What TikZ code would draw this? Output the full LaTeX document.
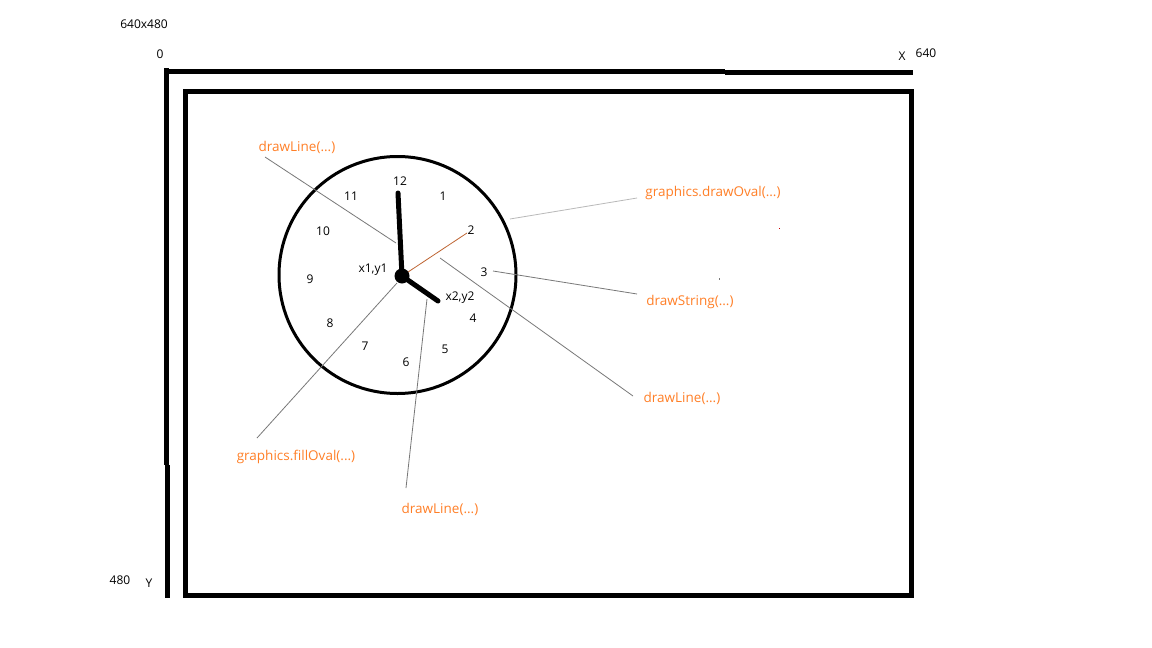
\documentclass[tikz,border=0pt]{standalone}
\usepackage{fontspec}
\setmainfont{Open Sans}
\definecolor{lbl}{RGB}{255,127,39}
\definecolor{ln}{RGB}{120,120,120}
\definecolor{lnlight}{RGB}{185,185,185}
\definecolor{brownln}{RGB}{190,100,50}
\begin{document}
\begin{tikzpicture}[x=1pt,y=-1pt,
  txt/.style={font=\fontsize{12}{14}\selectfont,inner sep=0pt},
  num/.style={txt},
  lab/.style={font=\fontsize{13.5}{16}\selectfont,inner sep=0pt,text=lbl},
  frame/.style={line width=5pt},
  conn/.style={ln,line width=0.8pt},
  hand/.style={line width=5pt,line cap=round}]
\useasboundingbox (0,0) rectangle (1152,648);
\fill[white] (0,0) rectangle (1152,648);
% axes
\draw[frame] (166,68) -- (166,465);
\draw[frame] (167,465) -- (167,598);
\draw[frame] (164,71) -- (725,71);
\draw[frame] (725,72.5) -- (913,72.5);
% inner rectangle
\draw[frame] (185,91) rectangle (911,595);
% corner texts
\node[txt] (res) at (144,24) {640x480};
\node[txt] (zero) at (160,54) {0};
\node[txt] (xl) at (902,56) {X};
\node[txt] (xv) at (926,53) {640};
\node[txt] (yv) at (120,580) {480};
\node[txt] (yl) at (149,583) {Y};
% clock
\node[draw,circle,line width=3pt,minimum size=237pt,inner sep=0pt] (clock) at (397.5,275) {};
\coordinate (hub) at (402,276);
\coordinate (mintip) at (398,193);
\coordinate (hrtip) at (438,301);
\coordinate (two) at (467,233);
\draw[brownln,line width=0.8pt] (hub) -- (two);
\draw[hand] (hub) -- (mintip);
\draw[hand] (hub) -- (hrtip);
\fill (hub) circle (7.5pt);
% numbers
\node[num] (n12) at (400,181) {12};
\node[num] (n1) at (443,196) {1};
\node[num] (n2) at (471,230) {2};
\node[num] (n3) at (484,272) {3};
\node[num] (n4) at (473,318) {4};
\node[num] (n5) at (445,349) {5};
\node[num] (n6) at (406,362) {6};
\node[num] (n7) at (365,346) {7};
\node[num] (n8) at (330,323) {8};
\node[num] (n9) at (310,279) {9};
\node[num] (n10) at (323,231) {10};
\node[num] (n11) at (351,196) {11};
\node[txt] (p1) at (373,270) {x1,y1};
\node[txt] (p2) at (460,298) {x2,y2};
% labels
\node[lab] (lDL1) at (297,147) {drawLine(...)};
\node[lab] (lOval) at (713,193) {graphics.drawOval(...)};
\node[lab] (lStr) at (690,302) {drawString(...)};
\node[lab] (lDL2) at (682,398) {drawLine(...)};
\node[lab] (lFill) at (296,457) {graphics.fillOval(...)};
\node[lab] (lDL3) at (440,509) {drawLine(...)};
% connector ends
\coordinate (e1a) at (265,157); \coordinate (e1b) at (396,243);
\coordinate (e2a) at (637,198); \coordinate (e2b) at (510,219);
\coordinate (e3a) at (637,294); \coordinate (e3b) at (493,271);
\coordinate (e4a) at (633,396); \coordinate (e4b) at (440,258);
\coordinate (e5a) at (257,438); \coordinate (e5b) at (397,283);
\coordinate (e6a) at (406,488); \coordinate (e6b) at (427,299);
\draw[conn] (e1a) -- (e1b);
\draw[lnlight,line width=0.8pt] (e2a) -- (e2b);
\draw[conn] (e3a) -- (e3b);
\draw[conn] (e4a) -- (e4b);
\draw[conn] (e5a) -- (e5b);
\draw[conn] (e6a) -- (e6b);
% stray dots
\fill[red!80!black] (778.5,227.5) rectangle (779.5,229);
\fill[ln] (718.5,278) rectangle (719.5,279.5);
\end{tikzpicture}
\end{document}
